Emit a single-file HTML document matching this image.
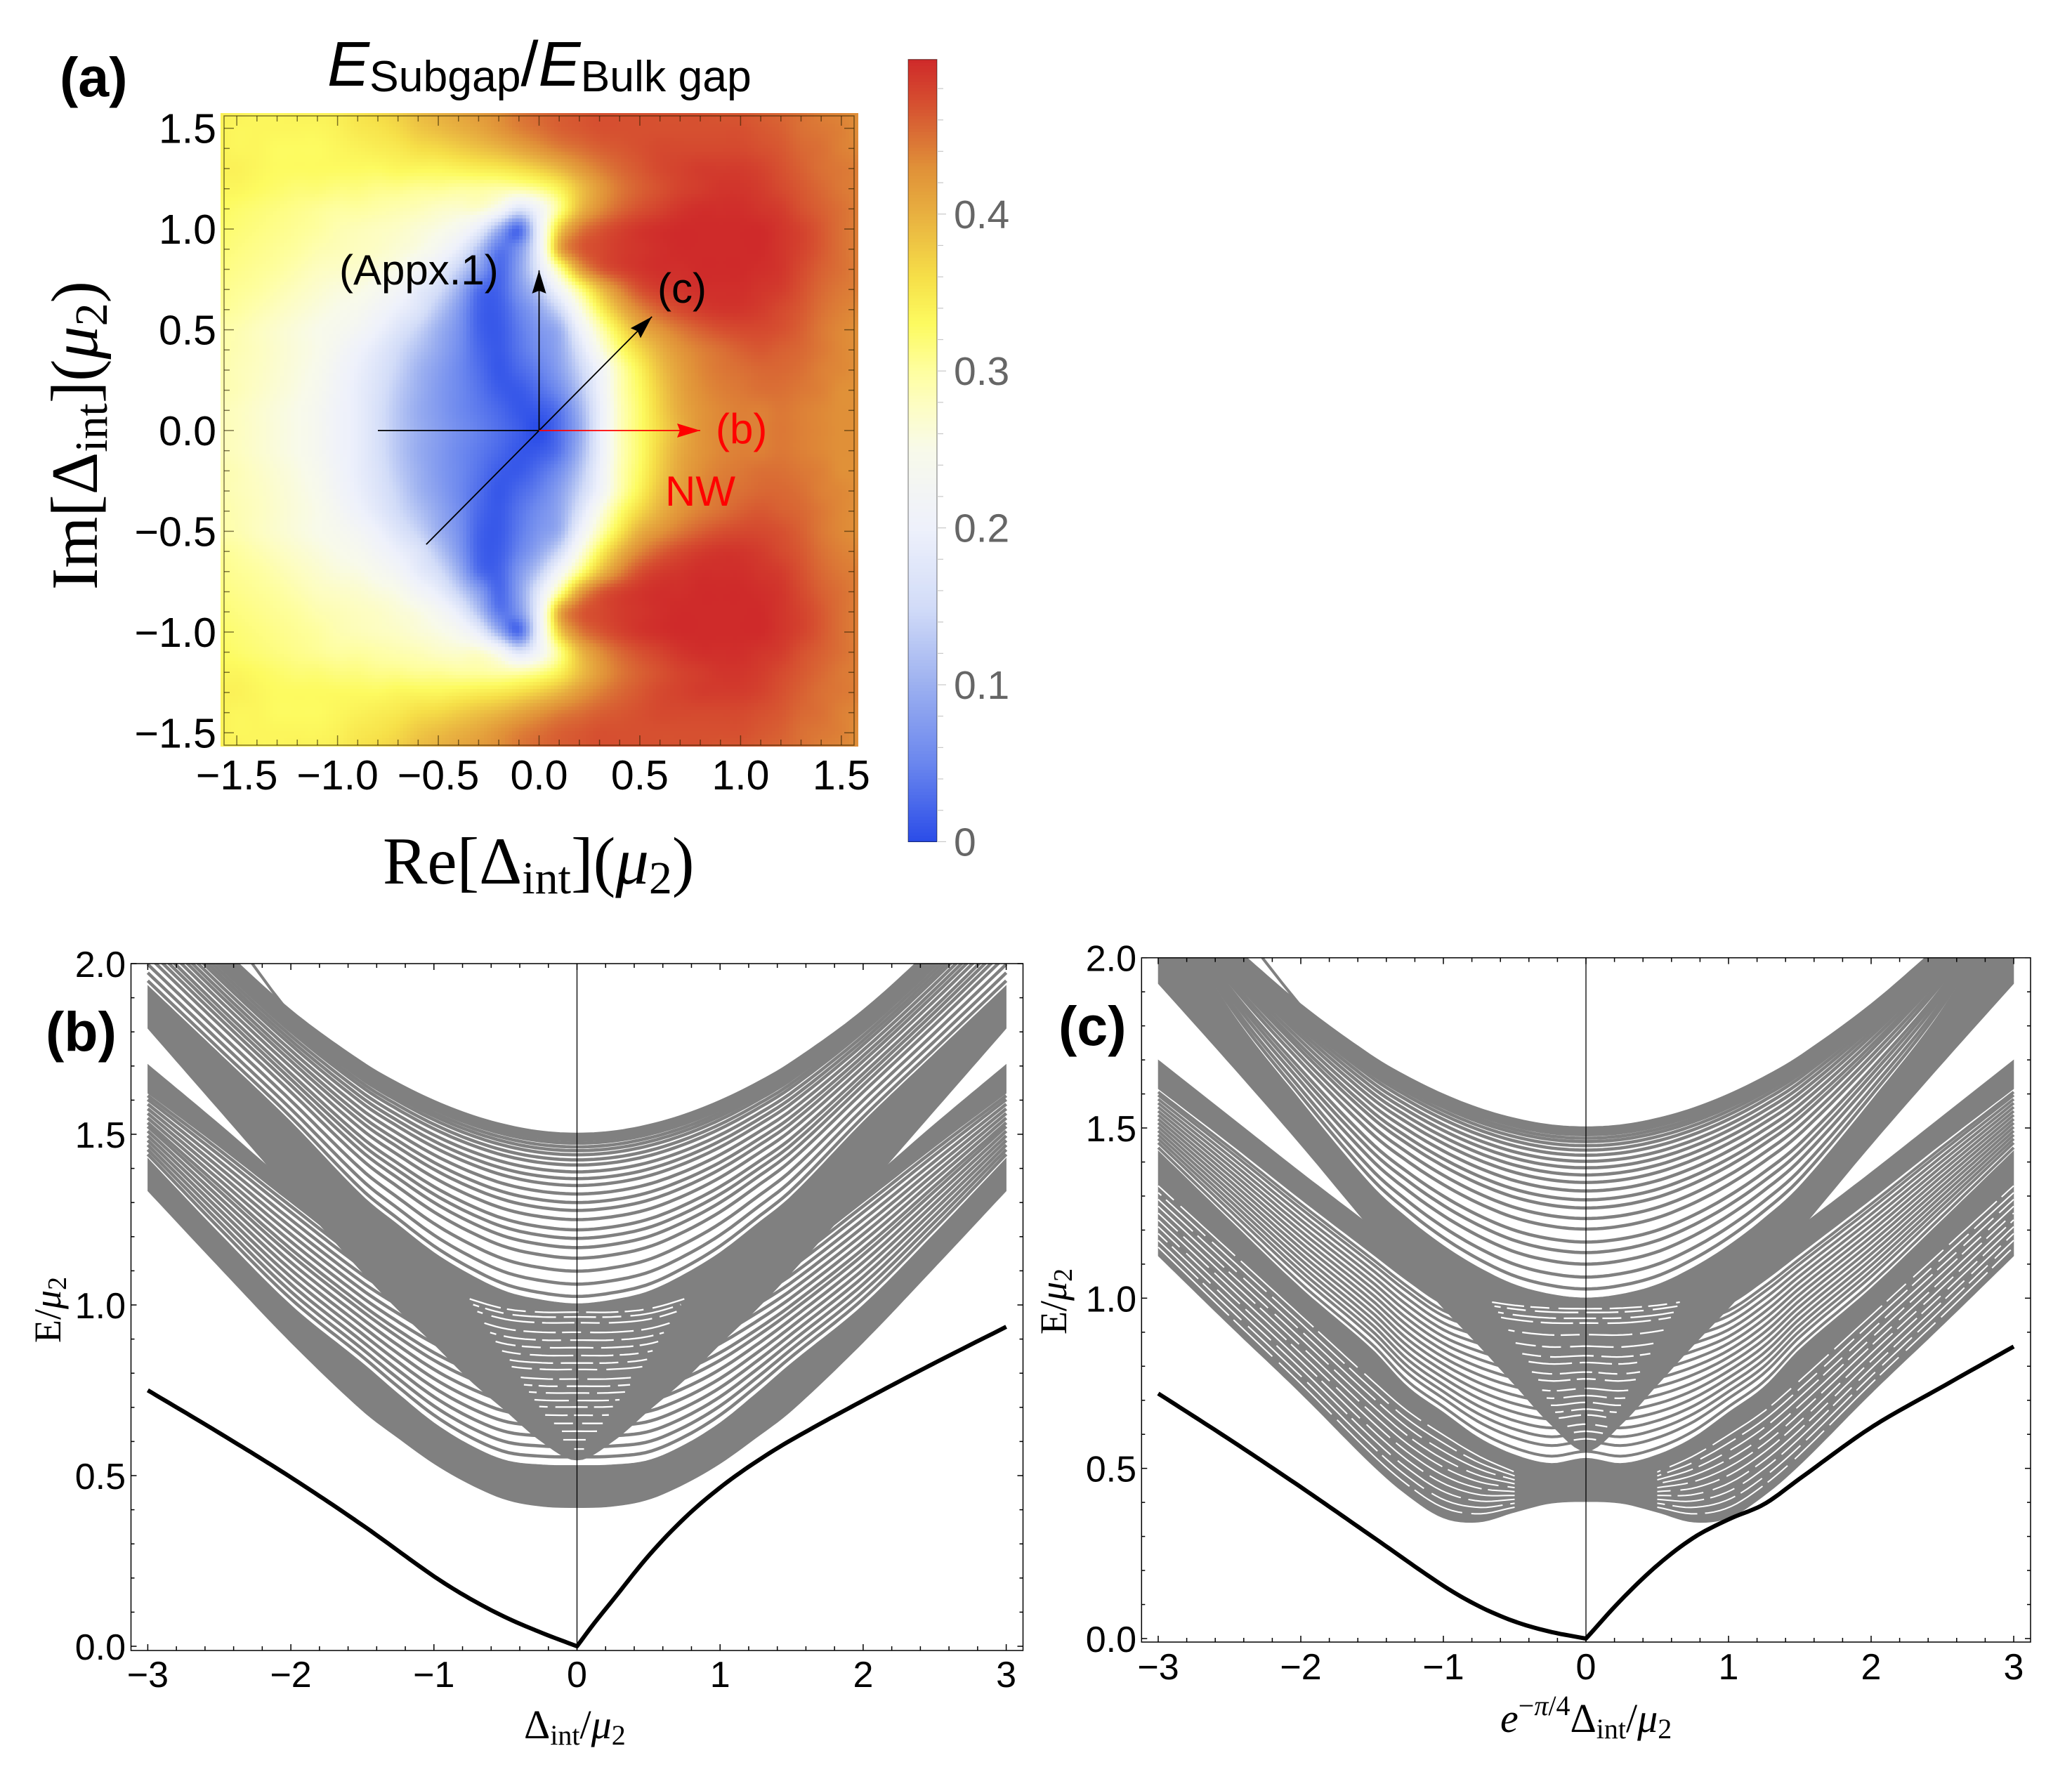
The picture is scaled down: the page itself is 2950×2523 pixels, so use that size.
<!DOCTYPE html>
<html lang="en">
<head>
<meta charset="utf-8">
<title>Subgap to bulk gap ratio and spectra</title>
<style>
html,body{margin:0;padding:0;background:#fff}
svg{display:block}
.sans{font-family:"Liberation Sans",sans-serif}
.serif{font-family:"Liberation Serif",serif}
</style>
</head>
<body>
<svg id="figure" xmlns="http://www.w3.org/2000/svg" width="2950" height="2523" viewBox="0 0 2950 2523">
  <defs>
    <clipPath id="clip-heat"><rect x="314" y="161" width="908" height="902"/></clipPath>
    <clipPath id="clip-b"><rect x="187" y="1372" width="1269" height="978"/></clipPath>
    <clipPath id="clip-c"><rect x="1626" y="1364" width="1265" height="974"/></clipPath>
  </defs>
  <g id="panel-a"></g>
  <g id="panel-b"></g>
  <g id="panel-c"></g>

  <text class="sans" x="85" y="137" font-size="79" font-weight="bold">(a)</text>
  <text class="sans" x="65" y="1496" font-size="79" font-weight="bold">(b)</text>
  <text class="sans" x="1507" y="1488" font-size="79" font-weight="bold">(c)</text>

  <text class="sans" x="466" y="122" font-size="90"><tspan font-style="italic">E</tspan><tspan font-size="62.5" dy="8">Subgap</tspan><tspan dy="-8">/</tspan><tspan font-style="italic">E</tspan><tspan font-size="62.5" dy="8">Bulk gap</tspan></text>

  <text class="serif" x="545" y="1258" font-size="95">Re[Δ<tspan font-size="66" dy="14">int</tspan><tspan dy="-14">](</tspan><tspan font-style="italic">μ</tspan><tspan font-size="66" dy="14">2</tspan><tspan dy="-14">)</tspan></text>
  <text class="serif" transform="translate(138,840) rotate(-90)" font-size="94">Im[Δ<tspan font-size="66" dy="14">int</tspan><tspan dy="-14">](</tspan><tspan font-style="italic">μ</tspan><tspan font-size="66" dy="14">2</tspan><tspan dy="-14">)</tspan></text>

  <text class="serif" x="746" y="2475" font-size="58">Δ<tspan font-size="40" dy="9">int</tspan><tspan dy="-9">/</tspan><tspan font-style="italic">μ</tspan><tspan font-size="40" dy="9">2</tspan></text>
  <text class="serif" transform="translate(86,1912) rotate(-90)" font-size="54">E/<tspan font-style="italic">μ</tspan><tspan font-size="38" dy="8">2</tspan></text>
  <text class="serif" x="2136" y="2466" font-size="58"><tspan font-style="italic">e</tspan><tspan font-size="40" dy="-24">−</tspan><tspan font-size="40" font-style="italic">π</tspan><tspan font-size="40">/4</tspan><tspan dy="24">Δ</tspan><tspan font-size="40" dy="9">int</tspan><tspan dy="-9">/</tspan><tspan font-style="italic">μ</tspan><tspan font-size="40" dy="9">2</tspan></text>
  <text class="serif" transform="translate(1518,1900) rotate(-90)" font-size="54">E/<tspan font-style="italic">μ</tspan><tspan font-size="38" dy="8">2</tspan></text>

  <text class="sans" x="483" y="405" font-size="60" fill="#000">(Appx.1)</text>
  <text class="sans" x="936" y="431" font-size="60" fill="#000">(c)</text>
  <text class="sans" x="1019" y="631" font-size="60" fill="#f00">(b)</text>
  <text class="sans" x="947" y="720" font-size="60" fill="#f00">NW</text>
</svg>
<script>
/* ---------- panel (a) data ---------- */
const heatX=[-1.6,-1.5,-1.4,-1.3,-1.2,-1.1,-1.0,-.9,-.8,-.7,-.6,-.5,-.4,-.3,-.2,-.1,0,.1,.2,.3,.4,.5,.6,.7,.8,.9,1.0,1.1,1.2,1.3,1.4,1.5,1.6];
const heatYAbs=[0,.1,.2,.3,.4,.5,.6,.7,.8,.9,1.0,1.1,1.2,1.3,1.4,1.5,1.6];
const heatRows=[
[.285,.28,.27,.26,.25,.235,.21,.19,.16,.125,.098,.078,.06,.045,.03,.015,0,.03,.09,.19,.28,.325,.365,.40,.425,.435,.44,.44,.445,.44,.435,.43,.43],
[.285,.28,.27,.26,.25,.235,.21,.19,.16,.125,.095,.075,.055,.04,.025,.01,.012,.035,.10,.19,.28,.325,.37,.405,.425,.435,.44,.44,.445,.44,.435,.43,.43],
[.29,.285,.275,.265,.255,.24,.215,.19,.165,.13,.10,.075,.055,.035,.015,.012,.03,.06,.12,.20,.285,.33,.375,.41,.43,.44,.445,.45,.45,.445,.44,.43,.43],
[.292,.285,.278,.268,.258,.245,.22,.195,.17,.14,.105,.08,.055,.03,.01,.025,.045,.08,.14,.21,.29,.34,.385,.415,.435,.445,.45,.455,.455,.45,.44,.435,.43],
[.295,.288,.28,.27,.26,.25,.23,.205,.18,.15,.12,.09,.06,.025,.012,.035,.06,.09,.165,.25,.32,.365,.40,.425,.44,.45,.46,.465,.46,.455,.445,.435,.43],
[.295,.29,.28,.27,.26,.25,.24,.225,.20,.17,.14,.10,.065,.02,.012,.04,.07,.10,.20,.285,.35,.40,.425,.445,.46,.47,.475,.475,.47,.46,.445,.435,.43],
[.305,.30,.29,.28,.27,.26,.25,.24,.22,.195,.17,.125,.075,.02,.015,.05,.09,.15,.25,.335,.395,.435,.46,.475,.485,.49,.49,.485,.475,.465,.45,.44,.435],
[.31,.305,.30,.29,.28,.27,.26,.255,.24,.22,.185,.155,.10,.03,.02,.07,.13,.22,.31,.385,.435,.47,.485,.49,.495,.495,.495,.49,.485,.47,.455,.445,.44],
[.315,.31,.305,.30,.29,.28,.275,.27,.26,.25,.22,.19,.14,.08,.025,.08,.18,.30,.41,.46,.48,.49,.495,.495,.498,.498,.498,.495,.49,.475,.46,.45,.44],
[.32,.315,.31,.305,.30,.29,.285,.28,.275,.265,.255,.23,.19,.12,.04,.07,.20,.40,.46,.475,.485,.49,.495,.498,.498,.498,.498,.498,.49,.48,.465,.45,.44],
[.325,.32,.315,.31,.305,.30,.29,.285,.28,.275,.265,.255,.235,.19,.10,.03,.20,.37,.44,.465,.48,.49,.495,.498,.498,.498,.498,.498,.49,.48,.465,.45,.44],
[.33,.325,.32,.315,.31,.305,.30,.30,.295,.29,.285,.275,.27,.27,.235,.17,.22,.31,.39,.43,.455,.47,.48,.49,.495,.495,.495,.49,.485,.47,.46,.45,.44],
[.335,.335,.33,.325,.32,.32,.315,.315,.31,.31,.305,.305,.30,.30,.295,.295,.31,.34,.385,.42,.445,.46,.47,.48,.485,.49,.49,.485,.475,.465,.455,.445,.44],
[.34,.34,.335,.33,.33,.33,.33,.33,.33,.335,.335,.335,.34,.345,.35,.36,.375,.395,.42,.44,.455,.465,.475,.48,.485,.485,.485,.48,.47,.46,.45,.445,.44],
[.34,.335,.335,.33,.33,.33,.335,.34,.345,.35,.36,.365,.375,.385,.395,.41,.425,.44,.45,.46,.465,.47,.475,.475,.475,.475,.475,.47,.465,.455,.45,.44,.435],
[.34,.335,.335,.335,.335,.335,.34,.35,.355,.365,.38,.39,.40,.41,.425,.44,.45,.46,.465,.47,.47,.47,.47,.47,.47,.47,.47,.465,.46,.45,.445,.44,.43],
[.34,.34,.335,.335,.34,.34,.345,.355,.365,.375,.39,.40,.41,.42,.43,.445,.455,.46,.465,.47,.47,.47,.47,.47,.47,.465,.465,.46,.455,.45,.44,.435,.43]
];
const colorStops=[0,.05,.1,.15,.2,.22,.25,.28,.3,.33,.36,.4,.43,.45,.47,.4986];
const colorRGB=[[42,76,232],[106,134,238],[156,176,240],[210,220,248],[238,241,251],[242,244,246],[248,250,234],[253,253,192],[254,254,160],[253,251,96],[246,223,72],[232,176,64],[224,144,56],[218,112,53],[214,80,48],[207,42,42]];
const heatTickLabels=[-1.5,-1,-.5,0,.5,1,1.5];
const colorbarTickLabels=[0,.1,.2,.3,.4];

/* annotation arrows, in axis units */
const arrowVerticalEnd=[0,.795];
const arrowDiagonalStart=[-.56,-.565];
const arrowDiagonalEnd=[.56,.565];
const lineLeftStart=[-.8,0];
const arrowRedEnd=[.8,0];

/* ---------- panels (b),(c) shared ---------- */
const absXGrid=[0,.25,.5,.75,1,1.25,1.5,2,2.5,3];
const xMajorTicks=[-3,-2,-1,0,1,2,3];
const yMajorTicks=[0,.5,1,1.5,2];

/* ---------- panel (b) curves, read at absXGrid ---------- */
const bFanUpper=[1.5,1.506,1.525,1.555,1.596,1.647,1.708,1.86,2.05,2.26];
const bFanLower=[1.004,1.015,1.04,1.09,1.154,1.235,1.32,1.537,1.737,1.936];
const bFanLevels=[1.025,1.061,1.099,1.137,1.168,1.195,1.22,1.25,1.277,1.30,1.325,1.35,1.37,1.39,1.41,1.425,1.44,1.452,1.463,1.474,1.483,1.491,1.497];
const bVLower=[.545,.60,.69,.78,.885,.985,1.095,1.33,1.57,1.81];
const bBandLower=[.406,.41,.43,.475,.535,.61,.69,.89,1.11,1.334];
const bBandUpper=[.53,.532,.545,.59,.655,.74,.83,1.0,1.21,1.43];
const bMidUpper=[.95,.95,.96,.99,1.03,1.08,1.14,1.30,1.463,1.62];
const bWedgeUpper=[.95,.95,.96,.99,1.02,1.10,1.19,1.35,1.53,1.705];
const bMidLevels=[.555,.585,.615,.645,.675,.705,.735,.76,.79,.82,.85,.88,.91,.935];
const bSliverLevels=[.979,.965,.948,.92,.897,.875,.852,.83,.811,.783,.762,.742,.72,.701,.677,.653,.63,.605,.578];
const bLoneX=[-2.27,-2.13,-2];
const bLoneE=[2,1.92,1.85];
const bBlackLeftX=[-3,-2.5,-2,-1.5,-1,-.75,-.5,-.25,0];
const bBlackLeftE=[.75,.625,.495,.355,.205,.14,.085,.04,0];
const bBlackRightX=[0,.125,.25,.5,.75,1,1.25,1.5,2,2.5,3];
const bBlackRightE=[0,.07,.135,.265,.375,.465,.54,.605,.72,.83,.936];

/* ---------- panel (c) curves, read at absXGrid ---------- */
const cFanUpper=[1.5,1.506,1.525,1.555,1.596,1.647,1.708,1.86,2.04,2.22];
const cFanLower=[1.001,1.012,1.04,1.09,1.155,1.235,1.33,1.58,1.85,2.2];
const cFanLevels=[1.027,1.062,1.10,1.134,1.165,1.203,1.234,1.265,1.289,1.315,1.34,1.362,1.383,1.402,1.42,1.435,1.448,1.46,1.47,1.48,1.488,1.495];
const cVLower=[.55,.63,.745,.86,.97,1.085,1.2,1.45,1.69,1.924];
const cBandLower=[.402,.397,.371,.342,.354,.42,.51,.72,.92,1.124];
const cStrandLower=[.43,.45,.495,.545,.61,.68,.77,.96,1.15,1.34];
const cBandUpper=[.53,.515,.54,.59,.665,.74,.85,1.03,1.23,1.433];
const cMidUpper=[.92,.92,.93,.95,.98,1.05,1.13,1.29,1.455,1.615];
const cWedgeUpper=[.93,.93,.94,.97,1.04,1.13,1.21,1.37,1.535,1.70];
const cMidLevels=[.55,.58,.605,.63,.655,.68,.705,.73,.755,.78,.805,.83,.855,.88,.90];
const cDenseLevels=[1.15,1.17,1.19,1.21,1.23,1.25,1.27,1.29,1.31,1.33];
const cSliverLevels=[.969,.958,.941,.927,.893,.859,.831,.811,.783,.763,.735,.714,.694,.674,.657,.63,.609,.587];
const cLoneX=[-2.27,-2.13,-1.99];
const cLoneE=[2,1.925,1.853];
const cBlackLeftX=[-3,-2.5,-2,-1.5,-1,-.75,-.5,-.25,0];
const cBlackLeftE=[.72,.585,.445,.30,.155,.095,.05,.02,0];
const cBlackRightX=[0,.25,.5,.75,1,1.25,1.5,2,2.5,3];
const cBlackRightE=[0,.115,.215,.295,.35,.395,.47,.62,.74,.858];

/* ---------- helpers ---------- */
const NS='http://www.w3.org/2000/svg';
function mk(tag,parent,attrs){
  const n=document.createElementNS(NS,tag);
  for(const k in attrs){n.setAttribute(k,attrs[k]);}
  parent.appendChild(n);
  return n;
}
function spline(xs,ys,x,flatStart){
  const last=xs.length-1;
  if(x<=xs[0])return ys[0];
  if(x>=xs[last])return ys[last];
  let i=0;
  while(x>xs[i+1])i++;
  const tan=function(k){
    if(k===0)return flatStart?0:(ys[1]-ys[0])/(xs[1]-xs[0]);
    if(k===last)return (ys[last]-ys[last-1])/(xs[last]-xs[last-1]);
    return (ys[k+1]-ys[k-1])/(xs[k+1]-xs[k-1]);
  };
  const h=xs[i+1]-xs[i],t=(x-xs[i])/h,t2=t*t,t3=t2*t;
  return (2*t3-3*t2+1)*ys[i]+(t3-2*t2+t)*h*tan(i)+(-2*t3+3*t2)*ys[i+1]+(t3-t2)*h*tan(i+1);
}
function edge(arr,x){return spline(absXGrid,arr,Math.abs(x),true);}
function sampleRange(a,b,step){
  const out=[];
  const n=Math.round((b-a)/step);
  for(let i=0;i<=n;i++)out.push(a+(b-a)*i/n);
  return out;
}
function pathOf(fnX,fnY,pts){
  return pts.map(function(p,i){return (i?'L':'M')+fnX(p).toFixed(1)+' '+fnY(p).toFixed(1);}).join('');
}

/* ---------- panel (a) ---------- */
const heatPxX=function(v){return 767.5+286.9*v;};
const heatPxY=function(v){return 613-286.9*v;};
const barPxY=function(v){return 1198.4-2234*v;};
function colorAt(v){
  const c=Math.max(0,Math.min(.4986,v));
  let i=0;
  while(i<colorStops.length-2&&c>colorStops[i+1])i++;
  const t=(c-colorStops[i])/(colorStops[i+1]-colorStops[i]);
  const a=colorRGB[i],b=colorRGB[i+1];
  return 'rgb('+Math.round(a[0]+(b[0]-a[0])*t)+','+Math.round(a[1]+(b[1]-a[1])*t)+','+Math.round(a[2]+(b[2]-a[2])*t)+')';
}
function cr(p0,p1,p2,p3,t){
  return .5*((2*p1)+(-p0+p2)*t+(2*p0-5*p1+4*p2-p3)*t*t+(-p0+3*p1-3*p2+p3)*t*t*t);
}
function heatValue(x,y){
  const fy=Math.min(Math.abs(y),1.5999)/(heatYAbs[1]-heatYAbs[0]);
  const fx=Math.max(0,Math.min(31.999,(x-heatX[0])/(heatX[1]-heatX[0])));
  const j=Math.floor(fy),i=Math.floor(fx),ty=fy-j,tx=fx-i;
  const rowAt=function(r){
    const row=heatRows[r<0?-r:Math.min(r,heatRows.length-1)];
    const g=function(k){return row[Math.max(0,Math.min(row.length-1,k))];};
    return cr(g(i-1),g(i),g(i+1),g(i+2),tx);
  };
  return cr(rowAt(j-1),rowAt(j),rowAt(j+1),rowAt(j+2),ty);
}
(function(){
  const root=document.getElementById('panel-a');
  const cells=mk('g',root,{'clip-path':'url(#clip-heat)','shape-rendering':'crispEdges'});
  
  
  const step=5;
  for(let py=161;py<1063;py+=step){
    for(let px=314;px<1222;px+=step){
      const vx=(px+step/2-767.5)/286.9;
      const vy=(613-(py+step/2))/286.9;
      const cell=mk('rect',cells,{x:px,y:py,width:step+.5,height:step+.5,fill:colorAt(heatValue(vx,vy))});
      
      
    }
  }
  const frame=mk('rect',root,{x:319,y:165,width:897,height:896,fill:'none',stroke:'rgba(40,30,0,.6)','stroke-width':1.5});
  
  
  const ticks=mk('g',root,{stroke:'rgba(40,30,0,.6)','stroke-width':1.5,fill:'none'});
  
  
  for(let k=-15;k<=15;k++){
    const v=k/10,len=(k%5===0)?14:8;
    [[heatPxX(v),1061,heatPxX(v),1061-len],[heatPxX(v),165,heatPxX(v),165+len],[319,heatPxY(v),319+len,heatPxY(v)],[1216,heatPxY(v),1216-len,heatPxY(v)]].forEach(function(s){
      const t=mk('line',ticks,{x1:s[0],y1:s[1],x2:s[2],y2:s[3]});
      
      
    });
  }
  heatTickLabels.forEach(function(v){
    const s=(v<0?'−':'')+Math.abs(v).toFixed(1);
    const xl=mk('text',root,{x:heatPxX(v),y:1124,'font-size':59,'text-anchor':'middle','class':'sans'});
    xl.textContent=s;
    
    
    const yl=mk('text',root,{x:308,y:heatPxY(v)+21,'font-size':59,'text-anchor':'end','class':'sans'});
    yl.textContent=s;
    
    
  });
  /* annotation arrows */
  function ann(a,b,color,name,head){
    const l=mk('line',root,{x1:heatPxX(a[0]),y1:heatPxY(a[1]),x2:heatPxX(b[0]),y2:heatPxY(b[1]),stroke:color,'stroke-width':1.8});
    
    
    if(head){
      const tx=heatPxX(b[0]),ty=heatPxY(b[1]);
      const dx=tx-heatPxX(a[0]),dy=ty-heatPxY(a[1]),d=Math.hypot(dx,dy),ux=dx/d,uy=dy/d;
      const pts=[[tx,ty],[tx-33*ux-10*uy,ty-33*uy+10*ux],[tx-29*ux,ty-29*uy],[tx-33*ux+10*uy,ty-33*uy-10*ux]];
      const h=mk('polygon',root,{points:pts.map(function(p){return p[0].toFixed(1)+','+p[1].toFixed(1);}).join(' '),fill:color});
      
      
    }
  }
  ann(lineLeftStart,[0,0],'#000','path-negative-real',false);
  ann(arrowDiagonalStart,arrowDiagonalEnd,'#000','path-c-arrow',true);
  ann([0,0],arrowVerticalEnd,'#000','path-appx-arrow',true);
  ann([0,0],arrowRedEnd,'#f00','path-b-arrow',true);
  /* colorbar */
  const bar=mk('g',root,{'shape-rendering':'crispEdges'});
  
  
  const barVals=sampleRange(0,.4966,.002);
  barVals.forEach(function(v){
    const c=mk('rect',bar,{x:1293,y:barPxY(v+.002),width:41,height:5,fill:colorAt(v+.001)});
    
    
  });
  const bf=mk('rect',root,{x:1293,y:84.7,width:41,height:1113.7,fill:'none',stroke:'rgba(0,0,0,.45)','stroke-width':1.2});
  
  
  for(let k=0;k<=24;k++){
    const v=k/50,maj=(k%5===0);
    const t=mk('line',root,{x1:1334,x2:maj?1347:1343,y1:barPxY(v),y2:barPxY(v),stroke:'#c8c8c8','stroke-width':1.2});
    
    
  }
  colorbarTickLabels.forEach(function(v){
    const t=mk('text',root,{x:1358,y:barPxY(v)+20,'font-size':57,fill:'#666','class':'sans'});
    t.textContent=v===0?'0':v.toFixed(1);
    
    
  });
})();

/* ---------- panels (b),(c) ---------- */
function drawAxes(root,cfg){
  const px=cfg.px,py=cfg.py;
  const g=mk('g',root,{stroke:'#000','stroke-width':1.5,fill:'none'});
  
  
  const f=mk('rect',g,{x:cfg.left,y:cfg.top,width:cfg.right-cfg.left,height:cfg.bottom-cfg.top});
  
  
  for(let k=-15;k<=15;k++){
    const v=k/5,len=(k%5===0)?9:6;
    [[cfg.bottom,cfg.bottom-len],[cfg.top,cfg.top+len]].forEach(function(s){
      const t=mk('line',g,{x1:px(v),x2:px(v),y1:s[0],y2:s[1]});
      
      
    });
  }
  for(let k=0;k<=20;k++){
    const v=k/10,len=(k%5===0)?8:5;
    [[cfg.left,cfg.left+len],[cfg.right,cfg.right-len]].forEach(function(s){
      const t=mk('line',g,{x1:s[0],x2:s[1],y1:py(v),y2:py(v)});
      
      
    });
  }
  xMajorTicks.forEach(function(v){
    const t=mk('text',root,{x:px(v),y:cfg.xLabelY,'font-size':52,'text-anchor':'middle','class':'sans'});
    t.textContent=(v<0?'−':'')+Math.abs(v);
    
    
  });
  yMajorTicks.forEach(function(v){
    const t=mk('text',root,{x:cfg.yLabelX,y:py(v)+19,'font-size':52,'text-anchor':'end','class':'sans'});
    t.textContent=v.toFixed(1);
    
    
  });
}
function drawBands(root,cfg){
  const px=cfg.px,py=cfg.py;
  const plot=mk('g',root,{'clip-path':cfg.clip});
  
  
  const xsAll=sampleRange(-3,3,.04);
  const gray='#808080';
  function line(low,up,t,width,color,dash,x1,x2,name,offset){
    const xs=(x1===undefined)?xsAll:sampleRange(x1,x2,.04);
    const d=pathOf(px,function(x){const l=edge(low,x);return py(l+t*(edge(up,x)-l));},xs);
    const a={d:d,fill:'none',stroke:color,'stroke-width':width};
    if(dash){a['stroke-dasharray']=dash;a['stroke-dashoffset']=offset||0;}
    const p=mk('path',plot,a);
    
    
  }
  function band(low,up,name){
    const rev=xsAll.slice().reverse();
    const d=pathOf(px,function(x){return py(edge(low,x));},xsAll)+pathOf(px,function(x){return py(edge(up,x));},rev).replace('M','L')+'Z';
    const p=mk('path',plot,{d:d,fill:gray,stroke:gray,'stroke-width':.6});
    
    
  }
  /* upper fan lines */
  line(cfg.fanLower,cfg.fanUpper,1,4.6,gray,null,undefined,undefined,'upper-fan-edge');
  cfg.fanLevels.forEach(function(lv){
    const t=(lv-cfg.fanLower[0])/(cfg.fanUpper[0]-cfg.fanLower[0]);
    line(cfg.fanLower,cfg.fanUpper,t,4.6,gray,null,undefined,undefined,'upper-fan-level');
  });
  /* middle fan lines */
  cfg.midLevels.forEach(function(lv){
    const t=(lv-cfg.bandUpper[0])/(cfg.midUpper[0]-cfg.bandUpper[0]);
    line(cfg.bandUpper,cfg.midUpper,t,cfg.midStroke,gray,null,undefined,undefined,'middle-fan-level');
  });
  /* solid strands */
  band(cfg.bandLower,cfg.bandUpper,'lower-band');
  band(cfg.midUpper,cfg.wedgeUpper,'wedge-band');
  band(cfg.vLower,cfg.fanLower,'v-band');
  /* thin openings inside the dense lower band of panel (c) */
  if(cfg.denseLevels){
    cfg.denseLevels.forEach(function(lv,i){
      const t=(lv-cfg.bandLower[9])/(cfg.strandLower[9]-cfg.bandLower[9]);
      line(cfg.bandLower,cfg.strandLower,t,2,'#fff','140 9 76 13 105 11',-3,-.5,'dense-band-gap',i*61);
      line(cfg.bandLower,cfg.strandLower,t,2,'#fff','58 11 92 9 37 14',.5,3,'dense-band-gap',i*47);
    });
  }
  /* openings inside the central V */
  cfg.sliverLevels.forEach(function(lv,i){
    const w=Math.min(.75,(lv-cfg.sliverBase)*cfg.sliverSpread);
    const t=(lv-cfg.bandUpper[0])/(cfg.sliverTop-cfg.bandUpper[0]);
    line(cfg.bandUpper,cfg.sliverCurve,t,2.3,'#fff','46 9 27 13 62 11',-w,w,'v-interior-gap',i*37);
  });
  /* lone steep line */
  const lone=mk('path',plot,{d:pathOf(function(i){return px(cfg.loneX[i]);},function(i){return py(cfg.loneE[i]);},cfg.loneX.map(function(_,i){return i;})),fill:'none',stroke:gray,'stroke-width':4});
  
  
  /* subgap state */
  const leftXs=sampleRange(cfg.blackLeftX[0],0,.03);
  const rightXs=sampleRange(0,cfg.blackRightX[cfg.blackRightX.length-1],.03);
  const dBlack=pathOf(px,function(x){return py(spline(cfg.blackLeftX,cfg.blackLeftE,x,false));},leftXs)+pathOf(px,function(x){return py(spline(cfg.blackRightX,cfg.blackRightE,x,false));},rightXs).replace('M','L');
  const black=mk('path',plot,{d:dBlack,fill:'none',stroke:'#000','stroke-width':6,'stroke-linejoin':'round'});
  
  
  const axis=mk('line',plot,{x1:px(0),x2:px(0),y1:cfg.top,y2:cfg.bottom,stroke:'#000','stroke-width':1.3});
  
  
}
const cfgB={name:'panel-b',clip:'url(#clip-b)',left:186.5,right:1456.5,top:1372,bottom:2350,xLabelY:2402,yLabelX:179,midStroke:4.6,
  px:function(v){return 821.5+203.7*v;},py:function(v){return 2344-486*v;},
  fanUpper:bFanUpper,fanLower:bFanLower,fanLevels:bFanLevels,vLower:bVLower,bandLower:bBandLower,bandUpper:bBandUpper,
  midUpper:bMidUpper,wedgeUpper:bWedgeUpper,midLevels:bMidLevels,sliverLevels:bSliverLevels,sliverBase:.55,sliverSpread:1.75,
  sliverTop:bMidUpper[0],sliverCurve:bMidUpper,loneX:bLoneX,loneE:bLoneE,
  blackLeftX:bBlackLeftX,blackLeftE:bBlackLeftE,blackRightX:bBlackRightX,blackRightE:bBlackRightE};
const cfgC={name:'panel-c',clip:'url(#clip-c)',left:1625.3,right:2891,top:1363.7,bottom:2338,xLabelY:2391,yLabelX:1618,midStroke:4,
  px:function(v){return 2258+203*v;},py:function(v){return 2333-484.65*v;},
  fanUpper:cFanUpper,fanLower:cFanLower,fanLevels:cFanLevels,vLower:cVLower,bandLower:cBandLower,bandUpper:cBandUpper,strandLower:cStrandLower,
  midUpper:cMidUpper,wedgeUpper:cWedgeUpper,midLevels:cMidLevels,denseLevels:cDenseLevels,sliverLevels:cSliverLevels,sliverBase:.53,sliverSpread:1.5,
  sliverTop:cMidUpper[0],sliverCurve:cMidUpper,loneX:cLoneX,loneE:cLoneE,
  blackLeftX:cBlackLeftX,blackLeftE:cBlackLeftE,blackRightX:cBlackRightX,blackRightE:cBlackRightE};
[cfgB,cfgC].forEach(function(cfg){
  const root=document.getElementById(cfg.name);
  drawBands(root,cfg);
  drawAxes(root,cfg);
});
</script>
</body>
</html>
